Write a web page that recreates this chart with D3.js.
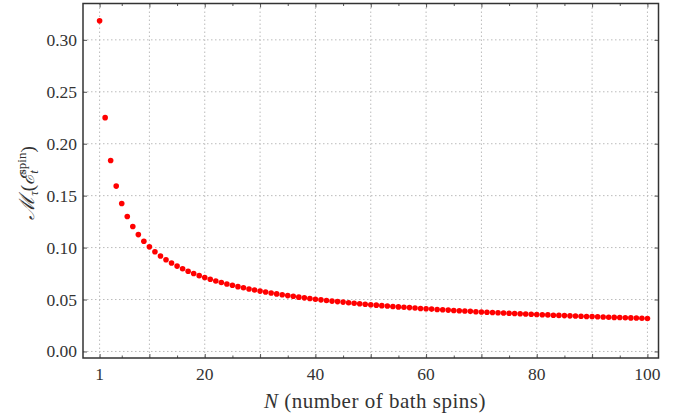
<!DOCTYPE html>
<html>
<head>
<meta charset="utf-8">
<script src="https://cdn.jsdelivr.net/npm/d3@7"></script>
<style>
  body { margin: 0; background: #fff; }
  svg { display: block; }
</style>
</head>
<body>
<script>
// M_tau values, N = 1 ... 100
let values = [
  0.3183, 0.2251, 0.1838, 0.1592, 0.1424, 0.1299, 0.1203, 0.1125, 0.1061, 0.1007,
  0.0960, 0.0919, 0.0883, 0.0851, 0.0822, 0.0796, 0.0772, 0.0750, 0.0730, 0.0712,
  0.0695, 0.0679, 0.0664, 0.0650, 0.0637, 0.0624, 0.0613, 0.0602, 0.0591, 0.0581,
  0.0572, 0.0563, 0.0554, 0.0546, 0.0538, 0.0531, 0.0523, 0.0516, 0.0510, 0.0503,
  0.0497, 0.0491, 0.0485, 0.0480, 0.0475, 0.0469, 0.0464, 0.0459, 0.0455, 0.0450,
  0.0446, 0.0441, 0.0437, 0.0433, 0.0429, 0.0425, 0.0422, 0.0418, 0.0414, 0.0411,
  0.0408, 0.0404, 0.0401, 0.0398, 0.0395, 0.0392, 0.0389, 0.0386, 0.0383, 0.0380,
  0.0378, 0.0375, 0.0373, 0.0370, 0.0368, 0.0365, 0.0363, 0.0360, 0.0358, 0.0356,
  0.0354, 0.0352, 0.0349, 0.0347, 0.0345, 0.0343, 0.0341, 0.0339, 0.0337, 0.0336,
  0.0334, 0.0332, 0.0330, 0.0328, 0.0327, 0.0325, 0.0323, 0.0322, 0.0320, 0.0318
];
let xLabelTicks = [1, 20, 40, 60, 80, 100];
let xGridTicks = [1, 10, 20, 30, 40, 50, 60, 70, 80, 90, 100];
let xMinorTicks = [5, 15, 25, 35, 45, 55, 65, 75, 85, 95];
let yTicks = [0, 0.05, 0.1, 0.15, 0.2, 0.25, 0.3];

let width = 679;
let height = 420;
let mLeft = 83, mRight = 658.5, mTop = 3.5, mBottom = 358;
let serif = "'Liberation Serif', 'DejaVu Serif', serif";

let dataset = values.map((v, i) => ({ n: i + 1, value: v }));

let x = d3.scaleLinear().domain([-2, 102]).range([mLeft, mRight]);
let y = d3.scaleLinear().domain([-0.0063, 0.335]).range([mBottom, mTop]);

let canvas = d3
  .select("body")
  .append("svg")
  .attr("width", width)
  .attr("height", height);

// grid
canvas
  .append("g")
  .selectAll("line")
  .data(xGridTicks)
  .enter()
  .append("line")
  .attr("x1", (d) => x(d))
  .attr("x2", (d) => x(d))
  .attr("y1", mTop)
  .attr("y2", mBottom)
  .attr("stroke", "#bbb")
  .attr("stroke-width", 1)
  .attr("stroke-dasharray", "1.5,2.5");

canvas
  .append("g")
  .selectAll("line")
  .data(yTicks)
  .enter()
  .append("line")
  .attr("x1", mLeft)
  .attr("x2", mRight)
  .attr("y1", (d) => y(d))
  .attr("y2", (d) => y(d))
  .attr("stroke", "#bbb")
  .attr("stroke-width", 1)
  .attr("stroke-dasharray", "1.5,2.5");

// inward ticks on all four sides
let xAxisB = d3.axisTop(x).tickValues(xGridTicks).tickSize(4).tickFormat("");
let xAxisBMinor = d3.axisTop(x).tickValues(xMinorTicks).tickSize(2.5).tickFormat("");
let xAxisT = d3.axisBottom(x).tickValues(xGridTicks).tickSize(4).tickFormat("");
let xAxisTMinor = d3.axisBottom(x).tickValues(xMinorTicks).tickSize(2.5).tickFormat("");
let yAxisL = d3.axisRight(y).tickValues(yTicks).tickSize(4).tickFormat("");
let yAxisR = d3.axisLeft(y).tickValues(yTicks).tickSize(4).tickFormat("");

function tickGroup(axis, tx, ty) {
  let g = canvas.append("g").attr("transform", `translate(${tx},${ty})`).call(axis);
  g.select(".domain").remove();
  g.selectAll("line").attr("stroke", "#555");
  return g;
}
tickGroup(xAxisB, 0, mBottom);
tickGroup(xAxisBMinor, 0, mBottom);
tickGroup(xAxisT, 0, mTop);
tickGroup(xAxisTMinor, 0, mTop);
tickGroup(yAxisL, mLeft, 0);
tickGroup(yAxisR, mRight, 0);

// frame
canvas
  .append("rect")
  .attr("x", mLeft)
  .attr("y", mTop)
  .attr("width", mRight - mLeft)
  .attr("height", mBottom - mTop)
  .attr("fill", "none")
  .attr("stroke", "#333")
  .attr("stroke-width", 1.5);

// tick labels
canvas
  .append("g")
  .selectAll("text")
  .data(xLabelTicks)
  .enter()
  .append("text")
  .text((d) => d)
  .attr("x", (d) => x(d))
  .attr("y", 380)
  .attr("text-anchor", "middle")
  .attr("font-family", serif)
  .attr("fill", "#333")
  .attr("font-size", "17.5px");

canvas
  .append("g")
  .selectAll("text")
  .data(yTicks)
  .enter()
  .append("text")
  .text((d) => d3.format(".2f")(d))
  .attr("x", mLeft - 6)
  .attr("y", (d) => y(d) + 6)
  .attr("text-anchor", "end")
  .attr("font-family", serif)
  .attr("fill", "#333")
  .attr("font-size", "17.5px");

// points
canvas
  .append("g")
  .selectAll("circle")
  .data(dataset)
  .enter()
  .append("circle")
  .attr("cx", (d) => x(d.n))
  .attr("cy", (d) => y(d.value))
  .attr("r", 2.8)
  .attr("fill", "#ff0000");

// axis titles
let xt = canvas
  .append("text")
  .attr("x", 375)
  .attr("y", 408)
  .attr("text-anchor", "middle")
  .attr("font-family", serif)
  .attr("fill", "#333")
  .attr("letter-spacing", "0.5px")
  .attr("font-size", "21px");
xt.append("tspan").attr("font-style", "italic").text("N");
xt.append("tspan").text(" (number of bath spins)");

let yt = canvas
  .append("text")
  .attr("transform", "translate(34,183) rotate(-90)")
  .attr("text-anchor", "middle")
  .attr("font-family", serif)
  .attr("fill", "#333")
  .attr("font-size", "19px");
yt.append("tspan").attr("font-style", "italic").attr("font-size", "21px").text("\u2133");
yt.append("tspan").attr("font-style", "italic").attr("font-size", "13px").attr("dy", 4).text("\u03c4");
yt.append("tspan").attr("dy", -4).text("(");
yt.append("tspan").attr("font-style", "italic").text("\u2130");
yt.append("tspan").attr("font-style", "italic").attr("font-size", "13px").attr("dy", 4).text("t");
yt.append("tspan").attr("font-size", "13px").attr("dx", -4).attr("dy", -12).text("spin");
yt.append("tspan").attr("dy", 8).text(")");
</script>
</body>
</html>
